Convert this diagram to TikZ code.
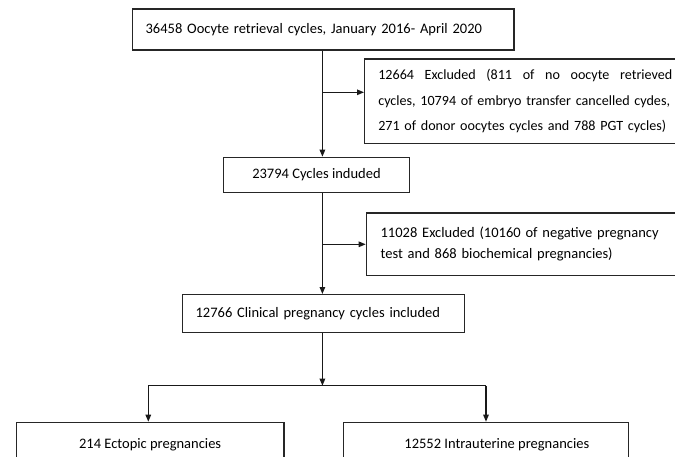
\documentclass[tikz,border=0pt]{standalone}
\usepackage{fontspec}
\setmainfont{Carlito}
\usetikzlibrary{arrows.meta}
\begin{document}
\begin{tikzpicture}[x=1pt,y={(0pt,-1pt)},
  box/.style={draw=black!85,line width=1.2pt,rectangle,anchor=north west,inner ysep=0pt,font=\fontsize{14.5}{17}\selectfont},
  conn/.style={line width=1.2pt,draw=black!90},
  arr/.style={conn,-{Triangle[length=7pt,width=5.5pt]}}]
\useasboundingbox (0,0) rectangle (675,456);
% boxes
\node[box,minimum width=381.6pt,minimum height=41pt,text width=355pt,inner xsep=13.3pt,align=left] (b1) at (131.7,8.3) {36458 Oocyte retrieval cycles, January 2016- April 2020};
\node[box,minimum height=84.2pt,text width=300pt,inner xsep=13.7pt,align=left,font=\fontsize{14.1}{25.3}\selectfont] (e1) at (364,58.3)
 {\hbox to 294pt{12664\hfill Excluded\hfill (811\hfill of\hfill no\hfill oocyte\hfill retrieved}\\cycles, 10794 of embryo transfer cancelled cydes,\\271 of donor oocytes cycles and 788 PGT cycles)};
\node[box,minimum width=186.3pt,minimum height=35.3pt,align=center] (b2) at (222.7,156.7) {23794 Cycles induded};
\node[box,minimum height=62.5pt,text width=300pt,inner xsep=14.3pt,align=left,font=\fontsize{14.5}{21.4}\selectfont] (e2) at (365.7,212.3)
 {11028 Excluded (10160 of negative pregnancy\\test and 868 biochemical pregnancies)};
\node[box,minimum width=282.3pt,minimum height=37.7pt,text width=255.7pt,inner xsep=13.3pt,align=left] (b3) at (181.7,294) {12766 Clinical pregnancy cycles included};
\node[box,minimum width=267.6pt,minimum height=45pt,align=center] (b4) at (15.7,421.7) {214 Ectopic pregnancies};
\node[box,minimum width=285pt,minimum height=45pt,align=center] (b5) at (342.7,421.7) {\hspace*{22pt}12552 Intrauterine pregnancies};
% junctions
\coordinate (j1) at (322.4,92.3);
\coordinate (j2) at (322.4,244.3);
\coordinate (j3) at (322.4,385.7);
\coordinate (jl) at (148.3,385.7);
\coordinate (jr) at (486,385.7);
% connectors
\draw[arr] (j1 |- b1.south) -- (j1 |- b2.north);
\draw[arr] (j1) -- (j1 -| e1.west);
\draw[arr] (j2 |- b2.south) -- (j2 |- b3.north);
\draw[arr] (j2) -- (j2 -| e2.west);
\draw[arr] (j3 |- b3.south) -- (j3);
\draw[conn] (jl) -- (jr);
\draw[arr] (jl) -- (jl |- b4.north);
\draw[arr] (jr) -- (jr |- b5.north);
\end{tikzpicture}
\end{document}
